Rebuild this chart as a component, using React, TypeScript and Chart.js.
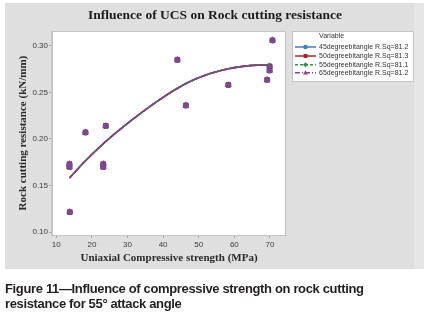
import React, { useEffect, useRef } from "react";
import { Chart, registerables, layouts } from "chart.js";

Chart.register(...registerables);

// ---- data ----
const seriesNames = [
  "45degreebitangle R.Sq=81.2",
  "50degreebitangle R.Sq=81.3",
  "55degreebitangle R.Sq=81.1",
  "65degreebitangle R.Sq=81.2",
];
const seriesColors = ["#3d7cc9", "#a3232c", "#2f8f4e", "#8a3fa0"];
const seriesMarkers = ["circle", "rect", "rectRot", "triangle"];
const seriesMarkerSizes = [3.1, 3.7, 3.2, 4.0];
const seriesDashes: number[][] = [[], [], [3, 2], [5, 2, 1, 2]];

// observed points (UCS in MPa, resistance in kN/mm)
const ucs = [13.7, 13.7, 13.8, 18.2, 23.2, 23.2, 23.9, 44.0, 46.4, 58.3, 69.2, 69.9, 69.9, 70.7];
const resistance = [0.173, 0.170, 0.1215, 0.207, 0.173, 0.170, 0.214, 0.285, 0.236, 0.258, 0.2636, 0.2736, 0.278, 0.306];

// fitted curve
const fitUcs = [13.7, 18, 23, 28, 33, 38, 43.8, 48, 53, 58, 63, 67, 70.4];
const fitResistance = [0.158, 0.1758, 0.1942, 0.2105, 0.2255, 0.2395, 0.254, 0.2625, 0.27, 0.2752, 0.2783, 0.2793, 0.2794];

const xTicks = [10, 20, 30, 40, 50, 60, 70];
const yTicks = [0.1, 0.15, 0.2, 0.25, 0.3];

const titleText = "Influence of UCS on Rock cutting resistance";
const xTitle = "Uniaxial Compressive strength (MPa)";
const yTitle = "Rock cutting resistance (kN/mm)";
const legendTitle = "Variable";
const captionLine1 = "Figure 11\u2014Influence of compressive strength on rock cutting";
const captionLine2 = "resistance for 55\u00b0 attack angle";

const W = 426;
const H = 314;
const LEGEND_W = 140;

function drawMarker(ctx: CanvasRenderingContext2D, style: string, x: number, y: number, r: number) {
  ctx.beginPath();
  if (style === "circle") {
    ctx.arc(x, y, r, 0, Math.PI * 2);
  } else if (style === "rect") {
    ctx.rect(x - r * 0.85, y - r * 0.85, r * 1.7, r * 1.7);
  } else if (style === "rectRot") {
    ctx.moveTo(x, y - r * 1.1);
    ctx.lineTo(x + r * 1.1, y);
    ctx.lineTo(x, y + r * 1.1);
    ctx.lineTo(x - r * 1.1, y);
    ctx.closePath();
  } else {
    ctx.moveTo(x, y - r * 1.1);
    ctx.lineTo(x + r * 1.05, y + r * 0.8);
    ctx.lineTo(x - r * 1.05, y + r * 0.8);
    ctx.closePath();
  }
  ctx.fill();
}

const framePlugin = {
  id: "mtbFrame",
  beforeInit(chart: any) {
    const box: any = {
      position: "right",
      weight: 100,
      fullSize: false,
      options: {},
      left: 0,
      top: 0,
      right: 0,
      bottom: 0,
      width: 0,
      height: 0,
      isHorizontal() {
        return false;
      },
      getPadding() {
        return { left: 0, right: 0, top: 0, bottom: 0 };
      },
      update(_maxW: number, maxH: number) {
        this.width = LEGEND_W;
        this.height = maxH;
      },
      draw() {
        const ctx: CanvasRenderingContext2D = chart.ctx;
        const x0 = Math.round(this.left) + 6;
        const y0 = Math.round(chart.chartArea.top);
        ctx.save();
        ctx.fillStyle = "#ffffff";
        ctx.fillRect(x0, y0, 122, 51);
        ctx.strokeStyle = "#c4c4c4";
        ctx.lineWidth = 1;
        ctx.strokeRect(x0 + 0.5, y0 + 0.5, 121, 50);
        ctx.font = '7px "Liberation Sans", Arial, sans-serif';
        ctx.fillStyle = "#333333";
        ctx.textBaseline = "middle";
        ctx.textAlign = "left";
        ctx.fillText(legendTitle, x0 + 27, y0 + 4.8);
        const rowY = [16, 25, 33.7, 41.7];
        seriesNames.forEach((name, i) => {
          const y = y0 + rowY[i];
          ctx.strokeStyle = seriesColors[i];
          ctx.lineWidth = 1.5;
          ctx.setLineDash(seriesDashes[i]);
          ctx.beginPath();
          ctx.moveTo(x0 + 3, y);
          ctx.lineTo(x0 + 24, y);
          ctx.stroke();
          ctx.setLineDash([]);
          ctx.fillStyle = seriesColors[i];
          drawMarker(ctx, seriesMarkers[i], x0 + 13.5, y, 2.3);
          ctx.fillStyle = "#333333";
          ctx.fillText(name, x0 + 27, y + 0.3);
        });
        ctx.restore();
      },
    };
    layouts.addBox(chart, box);
  },
  beforeDraw(chart: any) {
    const ctx: CanvasRenderingContext2D = chart.ctx;
    const a = chart.chartArea;
    ctx.save();
    ctx.fillStyle = "#ffffff";
    ctx.fillRect(0, 0, W, H);
    ctx.fillStyle = "#dfdfdf";
    ctx.fillRect(5, 3, 409, 266);
    ctx.fillStyle = "#e6e6e6";
    ctx.fillRect(414, 3, 10, 266);
    ctx.fillStyle = "#ffffff";
    ctx.fillRect(a.left, a.top, a.right - a.left, a.bottom - a.top);
    ctx.restore();
  },
  beforeDatasetsDraw(chart: any) {
    const ctx: CanvasRenderingContext2D = chart.ctx;
    const a = chart.chartArea;
    ctx.save();
    ctx.strokeStyle = "#c4c4c4";
    ctx.lineWidth = 1;
    ctx.strokeRect(Math.round(a.left) - 0.5, Math.round(a.top) + 0.5, Math.round(a.right - a.left), Math.round(a.bottom - a.top));
    ctx.restore();
  },
};

export default function App() {
  const ref = useRef<HTMLCanvasElement | null>(null);

  useEffect(() => {
    if (!ref.current) return;
    const points = ucs.map((x, i) => ({ x, y: resistance[i] }));
    const fit = fitUcs.map((x, i) => ({ x, y: fitResistance[i] }));

    const datasets: any[] = [];
    // points: the last series is drawn on top (lowest order)
    seriesNames.forEach((name, i) => {
      datasets.push({
        type: "scatter",
        label: name,
        data: points,
        showLine: false,
        pointStyle: seriesMarkers[i],
        pointRadius: seriesMarkerSizes[i],
        pointBackgroundColor: seriesColors[i],
        pointBorderColor: seriesColors[i],
        pointBorderWidth: 0,
        order: 10 - i,
      });
    });
    seriesNames.forEach((name, i) => {
      datasets.push({
        type: "line",
        label: name + " fit",
        data: fit,
        borderColor: seriesColors[i],
        borderWidth: 1.6,
        borderDash: seriesDashes[i],
        pointRadius: 0,
        cubicInterpolationMode: "monotone",
        fill: false,
        order: 5 - i,
      });
    });

    const tickFont = { family: '"Liberation Sans", Arial, sans-serif', size: 8 };
    const titleFont = { family: '"Liberation Serif", "Times New Roman", serif', size: 11, weight: "bold" as const };

    const chart = new Chart(ref.current, {
      type: "scatter",
      data: { datasets },
      plugins: [framePlugin as any],
      options: {
        responsive: false,
        animation: false,
        events: [],
        layout: { padding: { left: 4, right: 0, top: 0, bottom: 49 } },
        plugins: {
          legend: { display: false },
          tooltip: { enabled: false },
          title: {
            display: true,
            text: titleText,
            color: "#1c1c1c",
            font: { family: '"Liberation Serif", "Times New Roman", serif', size: 13.5, weight: "bold" },
            padding: { top: 7, bottom: 8 },
          },
        },
        scales: {
          x: {
            type: "linear",
            min: 8.8,
            max: 74.5,
            afterFit: (s: any) => {
              s.height = 30;
            },
            afterBuildTicks: (s: any) => {
              s.ticks = xTicks.map((v) => ({ value: v }));
            },
            ticks: {
              font: tickFont,
              color: "#3a3a3a",
              padding: 2,
              maxRotation: 0,
              autoSkip: false,
              callback: (v: any) => String(v),
            },
            grid: { display: true, drawOnChartArea: false, drawTicks: true, tickLength: 3, color: "#a8a8a8" },
            border: { display: true, color: "#c4c4c4" },
            title: { display: true, text: xTitle, color: "#2a2a2a", font: titleFont, padding: { top: 0, bottom: 0 } },
          },
          y: {
            type: "linear",
            min: 0.0968,
            max: 0.3158,
            afterFit: (s: any) => {
              s.width = 48;
            },
            afterBuildTicks: (s: any) => {
              s.ticks = yTicks.map((v) => ({ value: v }));
            },
            ticks: {
              font: tickFont,
              color: "#3a3a3a",
              padding: 1,
              autoSkip: false,
              callback: (v: any) => Number(v).toFixed(2),
            },
            grid: { display: true, drawOnChartArea: false, drawTicks: true, tickLength: 3, color: "#a8a8a8" },
            border: { display: true, color: "#c4c4c4" },
            title: { display: true, text: yTitle, color: "#2a2a2a", font: titleFont, padding: { top: 12.4, bottom: 0 } },
          },
        },
      } as any,
    });
    return () => chart.destroy();
  }, []);

  return (
    <div style={{ position: "absolute", left: 0, top: 0, width: W, height: H, background: "#fff" }}>
      <canvas ref={ref} width={W} height={H} style={{ display: "block", width: W, height: H }} />
      <div
        style={{
          position: "absolute",
          left: 5,
          top: 281,
          whiteSpace: "nowrap",
          font: 'bold 13px "Liberation Sans", Arial, sans-serif',
          lineHeight: "15px",
          letterSpacing: "-0.35px",
          color: "#231f20",
        }}
      >
        {captionLine1}
        <br />
        {captionLine2}
      </div>
    </div>
  );
}
